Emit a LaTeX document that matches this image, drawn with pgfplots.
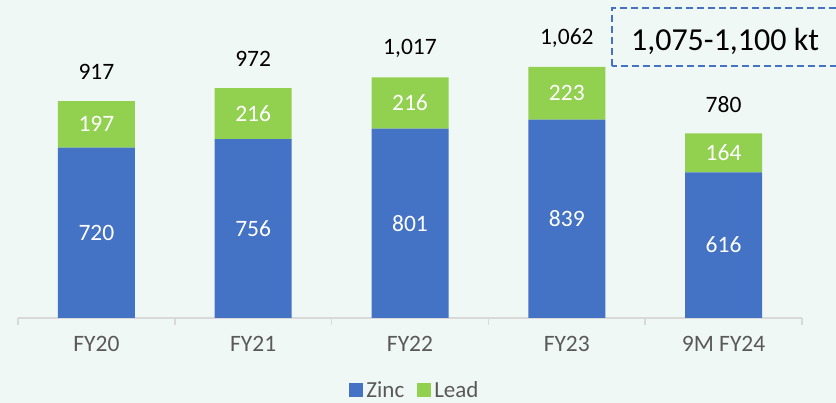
\documentclass[border=0pt]{standalone}
\usepackage{fontspec}
\setmainfont{Carlito}
\usepackage{pgfplots}
\pgfplotsset{compat=1.18}
\usepackage{pgfplotstable}
\definecolor{zinc}{HTML}{4472C4}
\definecolor{lead}{HTML}{92D050}
\definecolor{bg}{HTML}{F0F8F6}
\definecolor{axisgray}{HTML}{D9D9D9}
\definecolor{ticktext}{HTML}{595959}
\tikzset{seg/.style={font=\fontsize{23.5}{27}\selectfont, text=white},
         tot/.style={font=\fontsize{23.5}{27}\selectfont, text=black}}
\pgfplotstableread{
idx zinc lead
0.5 720 197
1.5 756 216
2.5 801 216
3.5 839 223
4.5 616 164
}\datatable
\begin{document}
\begin{tikzpicture}[x=1pt,y=1pt]
\useasboundingbox (0,0) rectangle (836,403);
\fill[bg] (0,0) rectangle (836,403);
\begin{axis}[
  at={(18pt,85pt)}, anchor=origin,
  scale only axis,
  width=784pt, height=317pt,
  xmin=0, xmax=5, ymin=0, ymax=1340,
  ybar stacked, bar width=77pt,
  axis y line=none,
  axis x line*=bottom,
  axis line style={draw=axisgray, line width=1.5pt},
  xtick={0.5,1.5,2.5,3.5,4.5},
  xticklabels={FY20,FY21,FY22,FY23,9M FY24},
  major x tick style={draw=none},
  minor xtick={0,1,2,3,4,5},
  minor x tick style={draw=axisgray, line width=1.5pt},
  minor tick length=7pt,
  tick align=outside,
  xticklabel style={font=\fontsize{23.5}{27}\selectfont, text=ticktext, yshift=-10pt},
  legend style={at={(0.507,-0.227)}, anchor=center, draw=none, fill=none,
    legend columns=-1, font=\fontsize{23}{27}\selectfont, text=ticktext,
    /tikz/every even column/.append style={column sep=10pt},
    nodes={inner xsep=3pt}},
  legend image code/.code={\fill[#1,draw=none] (0pt,-7pt) rectangle (14pt,7pt);},
  clip=false,
]
\addplot[fill=zinc, draw=none] table[x=idx, y=zinc] {\datatable};
\addplot[fill=lead, draw=none] table[x=idx, y=lead] {\datatable};
\legend{Zinc, Lead}
\coordinate (z0) at (axis cs:0.5,360);
\coordinate (z1) at (axis cs:1.5,378);
\coordinate (z2) at (axis cs:2.5,400.5);
\coordinate (z3) at (axis cs:3.5,419.5);
\coordinate (z4) at (axis cs:4.5,308);
\coordinate (p0) at (axis cs:0.5,818.5);
\coordinate (p1) at (axis cs:1.5,864);
\coordinate (p2) at (axis cs:2.5,909);
\coordinate (p3) at (axis cs:3.5,950.5);
\coordinate (p4) at (axis cs:4.5,698);
\node[tot] at (axis cs:0.5,1040) {917};
\node[tot] at (axis cs:1.5,1095) {972};
\node[tot] at (axis cs:2.5,1140) {1,017};
\node[tot] at (axis cs:3.5,1183) {1,062};
\node[tot] at (axis cs:4.5,903) {780};
\end{axis}
\node[seg] at (z0) {720};
\node[seg] at (z1) {756};
\node[seg] at (z2) {801};
\node[seg] at (z3) {839};
\node[seg] at (z4) {616};
\node[seg] at (p0) {197};
\node[seg] at (p1) {216};
\node[seg] at (p2) {216};
\node[seg] at (p3) {223};
\node[seg] at (p4) {164};
\draw[zinc, line width=1.5pt, dash pattern=on 7pt off 4pt] (612,337) rectangle (848,395);
\node[font=\fontsize{32}{36}\selectfont, text=black] at (725,362) {1,075-1,100 kt};
\end{tikzpicture}
\end{document}
